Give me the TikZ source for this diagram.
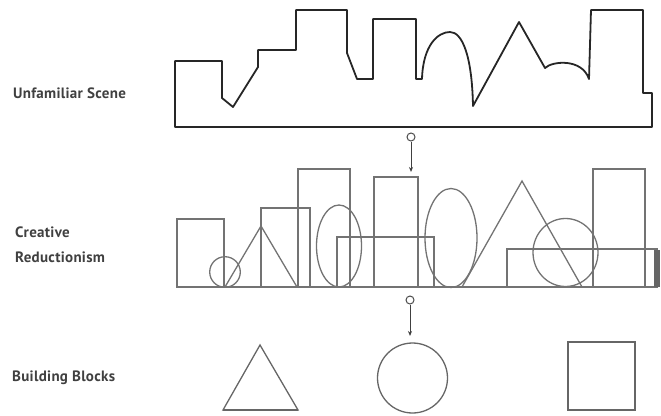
\documentclass[tikz,border=0pt]{standalone}
\usepackage{fontspec}
\setmainfont{PT Sans}[LetterSpace=2]
\usepackage{xcolor}
\usetikzlibrary{arrows.meta}

\tikzset{
  scene/.style={line width=1.8pt, draw=black!85, line join=round},
  piece/.style={line width=1.3pt, draw=black!55},
  block/.style={line width=1.3pt, draw=black!60},
  rowlabel/.style={anchor=west, inner sep=0pt, align=left, text=black!75,
    font=\bfseries\fontsize{15}{25}\selectfont},
  ring/.style={circle, draw=black!70, line width=1pt, inner sep=0pt, minimum size=8pt},
  pointer/.style={-{Stealth[length=5pt,width=4pt]}, line width=1pt, draw=black!75}
}

\begin{document}
\begin{tikzpicture}[x=1pt,y=-1pt]
\useasboundingbox (0,0) rectangle (661,415);

% Labels
\node[rowlabel] (unfamiliar) at (13,93) {Unfamiliar Scene};
\node[rowlabel] (creative) at (15,245) {Creative\\Reductionism};
\node[rowlabel] (blocks) at (12,378) {Building Blocks};

% Unfamiliar scene
\draw[scene] (175,127) -- (175,61) -- (222,61) -- (222,98) -- (233,107)
  -- (258,67) -- (258,50) -- (296,50) -- (296,10) -- (347,10) -- (347,53)
  -- (357,79) -- (373,79) -- (373,19) -- (416,19) -- (416,79) -- (422,79)
  .. controls (423,45) and (438,32) .. (450,32)
  .. controls (462,32) and (472,55) .. (473,106)
  -- (519,22) -- (545,68)
  .. controls (552,61) and (582,58) .. (589,79)
  -- (591,10) -- (643,10) -- (643,93) -- (652,93) -- (652,127) -- cycle;

% Creative reductionism
\draw[piece] (177,287) -- (657,287);
\draw[piece] (177,287) rectangle (224,219);
\draw[piece] (225,272) circle[radius=15.3];
\draw[piece] (225,287) -- (261,226) -- (297,287);
\draw[piece] (261,287) rectangle (310,208);
\draw[piece] (298,287) rectangle (350,169);
\draw[piece] (339,246) ellipse[x radius=22.5, y radius=41];
\draw[piece] (337,287) rectangle (434,237);
\draw[piece] (374,287) rectangle (418,177);
\draw[piece] (451,238) ellipse[x radius=26, y radius=49.5];
\draw[piece] (462,287) -- (522,181) -- (582,287);
\draw[piece] (507,287) rectangle (657,249);
\fill[black!60] (654,250) rectangle (660,287);
\draw[piece] (565.5,252.5) ellipse[x radius=32.5, y radius=34];
\draw[piece] (593,287) rectangle (645,169);

% Building blocks
\draw[block] (223,410) -- (260,345) -- (298,410) -- cycle;
\draw[block, line width=2.5pt] (223,410) -- (298,410);
\draw[block] (412.5,378) circle[radius=35];
\draw[block] (568,342) rectangle (635,410);
\draw[block, line width=2.5pt] (568,410) -- (635,410);

% Pointers
\node[ring] (ring1) at (411,137) {};
\coordinate (tip1) at (411,172);
\draw[pointer] (ring1) -- (tip1);
\node[ring] (ring2) at (410,300) {};
\coordinate (tip2) at (410,336);
\draw[pointer] (ring2) -- (tip2);
\end{tikzpicture}
\end{document}
